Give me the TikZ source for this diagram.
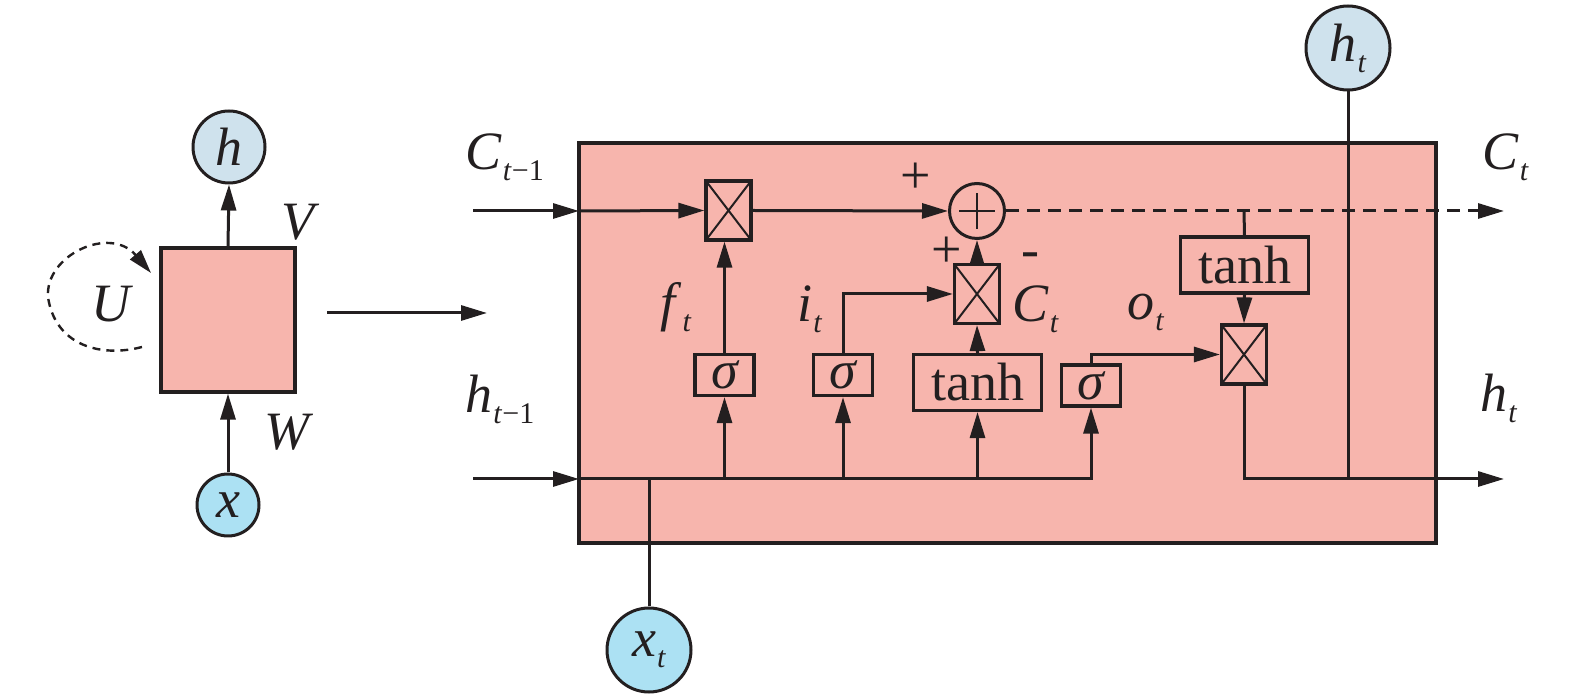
\documentclass[tikz,border=0pt]{standalone}
\usepackage{fontspec}
\setmainfont{LiberationSerif}[Extension=.ttf, UprightFont=*-Regular, ItalicFont=*-Italic, BoldFont=*-Bold, BoldItalicFont=*-BoldItalic]
\usetikzlibrary{arrows.meta}
\definecolor{lc}{RGB}{35,31,32}
\definecolor{cellfill}{RGB}{247,181,173}
\definecolor{hblue}{RGB}{207,226,237}
\definecolor{xblue}{RGB}{172,225,243}
\newcommand\bigtxt{\rmfamily\fontsize{27pt}{30pt}\selectfont}
\newcommand\subtx[1]{\kern0.5pt\raisebox{-5.5pt}{\rmfamily\fontsize{15pt}{15pt}\selectfont #1}}
\begin{document}
\begin{tikzpicture}[x=0.5pt,y=-0.5pt,
  ln/.style={draw=lc, line width=1.5pt},
  arr/.style={ln, -{Triangle[length=13pt,width=7.5pt]}},
  boxline/.style={draw=lc, line width=1.6pt, inner sep=0pt},
  mulbox/.style={boxline, minimum width=22.5pt, minimum height=29.5pt,
    path picture={\draw[lc, line width=1pt]
      (path picture bounding box.south west) -- (path picture bounding box.north east)
      (path picture bounding box.north west) -- (path picture bounding box.south east);}},
  sigbox/.style={boxline, minimum width=29.5pt, minimum height=20.5pt, font=\bigtxt\itshape, text=lc},
  tanhbox/.style={boxline, minimum width=64pt, minimum height=28pt, font=\bigtxt, text=lc},
  lbl/.style={text=lc, font=\bigtxt, inner sep=0pt},
  circ/.style={circle, draw=lc, line width=1.5pt, inner sep=0pt, font=\bigtxt, text=lc}
]
\useasboundingbox (0,0) rectangle (1575,699);

% ---------- left: simple RNN ----------
\node[draw=lc, line width=1.6pt, fill=cellfill, minimum width=67pt, minimum height=72pt, inner sep=0pt] (lbox) at (228,320) {};
\node[circ, fill=hblue, minimum size=36pt] (hc) at (229,147) {\textit{h}};
\node[circ, fill=xblue, minimum size=31pt] (xc) at (228,505) {\textit{x}};
\draw[arr] (lbox.north) -- (hc.south);
\draw[arr] (xc.north) -- (lbox.south);
\node[lbl] (lV) at (301,222) {\textit{V}};
\node[lbl] (lW) at (289,432) {\textit{W}};
\node[lbl] (lU) at (112,304) {\textit{U}};
\coordinate (ls) at (142,347);
\coordinate (lm) at (48,297);
\coordinate (le) at (151,273);
\draw[draw=lc, line width=1.2pt, dash pattern=on 4pt off 3pt, -{Triangle[length=12pt,width=7pt]}]
  (ls) .. controls (100,358) and (55,345) .. (lm) .. controls (45,255) and (110,225) .. (le);
\coordinate (ra) at (327,313);
\coordinate (rb) at (487,313);
\draw[arr] (ra) -- (rb);

% ---------- right: LSTM cell ----------
\node[draw=lc, line width=1.6pt, fill=cellfill, minimum width=428.5pt, minimum height=200pt, inner sep=0pt] (cell) at (1007.5,343) {};

\node[mulbox] (fmul) at (728.5,210.5) {};
\node[circ, minimum size=27.5pt] (plus) at (977,211) {};
\draw[lc, line width=1pt] ([xshift=-9pt]plus.center) -- ([xshift=9pt]plus.center)
  ([yshift=-9pt]plus.center) -- ([yshift=9pt]plus.center);
\node[mulbox] (imul) at (977,294) {};
\node[sigbox] (fsig) at (724.5,375) {σ};
\node[sigbox] (isig) at (843,375) {σ};
\node[tanhbox] (ctanh) at (977.5,382.5) {tanh};
\node[sigbox] (osig) at (1091,385.5) {σ};
\node[tanhbox] (otanh) at (1244.5,265) {tanh};
\node[mulbox] (omul) at (1244,354.5) {};
\node[circ, fill=hblue, minimum size=42pt] (htc) at (1348,48) {\textit{h}\subtx{\textit{t}}};
\node[circ, fill=xblue, minimum size=42pt] (xtc) at (649,650) {\textit{x}\subtx{\textit{t}}};

% coordinates
\coordinate (cin) at (473,211);
\coordinate (cedge) at (579,211);
\coordinate (cout) at (1504,211);
\coordinate (tap) at (1244,211);
\coordinate (hin) at (473,479);
\coordinate (hedge) at (579,479);
\coordinate (hout) at (1504,479);
\coordinate (hjoin) at (1348,479);
\coordinate (xjoin) at (649,479);

% cell state line
\draw[arr] (cin) -- (cedge);
\draw[arr] (cedge) -- (fmul.west);
\draw[arr] (fmul.east) -- (plus.west);
\draw[arr, dash pattern=on 6.5pt off 4pt] (plus.east) -- (cout);

% hidden/input line
\draw[arr] (hin) -- (hedge);
\draw[arr] (hedge) -| (osig.south);
\draw[arr] (fsig.south |- hedge) -- (fsig.south);
\draw[arr] (isig.south |- hedge) -- (isig.south);
\draw[arr] (ctanh.south |- hedge) -- (ctanh.south);
\draw[ln] (xtc.north) -- (xjoin);

% gates
\draw[arr] (fsig.north) -- (fsig.north |- fmul.south);
\draw[arr] (isig.north) |- (imul.west);
\draw[arr] (ctanh.north) -- (imul.south);
\draw[arr] (imul.north) -- (plus.south);
\draw[arr] (osig.north) |- (omul.west);
\draw[ln] (tap) -- (otanh.north);
\draw[arr] (otanh.south) -- (omul.north);
\draw[arr] (omul.south) |- (hout);
\draw[ln] (htc.south) -- (hjoin);

% labels
\node[lbl, anchor=base west] (lC1) at (465,170) {\textit{C}\subtx{\textit{t}\char"2212 1}};
\node[lbl, anchor=base west] (lh1) at (465,413) {\textit{h}\subtx{\textit{t}\char"2212 1}};
\node[lbl, anchor=base west] (lCt) at (1482,170) {\textit{C}\subtx{\textit{t}}};
\node[lbl, anchor=base west] (lht) at (1480,412) {\textit{h}\subtx{\textit{t}}};
\node[lbl, anchor=base west] (lft) at (660,321) {\textit{f}\subtx{\textit{t}}};
\node[lbl, anchor=base west] (lit) at (797,322) {\textit{i}\subtx{\textit{t}}};
\node[lbl, anchor=base west] (lct) at (1012,322) {\textit{C}\subtx{\textit{t}}};
\node[lbl, anchor=base west] (lot) at (1127,320) {\textit{o}\subtx{\textit{t}}};
\node[lbl] (pl1) at (916,178) {+};
\node[lbl] (pl2) at (947,252) {+};
\node[lbl] (mi) at (1030,260) {-};
\end{tikzpicture}
\end{document}
